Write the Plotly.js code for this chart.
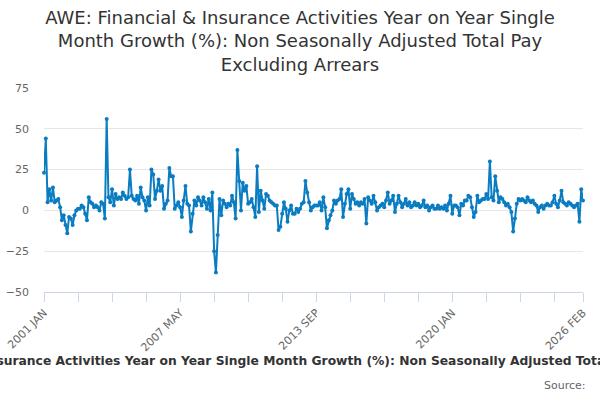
<!DOCTYPE html>
<html>
<head>
<meta charset="utf-8">
<script src="https://cdn.plot.ly/plotly-3.0.1.min.js"></script>
<style>
  html, body { margin: 0; padding: 0; background: #fff; }
  #chart { width: 600px; height: 400px; }
</style>
</head>
<body>
<div id="chart"></div>
<script>
var seriesName = 'AWE: Financial & Insurance Activities Year on Year Single Month Growth (%): Non Seasonally Adjusted Total Pay Excluding Arrears';
var startYear = 2001;
var monthNames = ['JAN', 'FEB', 'MAR', 'APR', 'MAY', 'JUN', 'JUL', 'AUG', 'SEP', 'OCT', 'NOV', 'DEC'];

// monthly values, 2001 JAN .. 2026 FEB
var growth = [
  23, 44, 5, 13, 6, 14, 5, 6, 7, 2, -6, -3,
  -9, -14, -4, -5, -9, -3, 0, 1, 1, 3, 2, -2,
  -6, 8, 5, 4, 2, 3, 2, 0, 5, 4, -5, 56,
  8, 5, 13, 3, 10, 7, 8, 7, 11, 9, 7, 8,
  25, 9, 7, 6, 9, 4, 14, 8, 6, 0, 8, 3,
  25, 22, 7, 12, 19, 12, 15, 1, 4, 6, 26, 21,
  21, 1, 3, 5, 2, -4, 6, 15, 4, 3, -13, -2,
  6, 3, 8, 6, 3, 8, 5, 1, 7, 0, 11, -25,
  -38, -15, 7, -3, 6, 4, 2, 4, 3, 9, 5, -5,
  37, 18, 0, 17, 12, 15, 4, 5, 7, 2, -4, 27,
  -1, 12, 6, 1, 10, 9, 6, 5, 4, 3, 3, -12,
  -10, -2, 5, 1, -7, 0, 3, -2, -2, 1, -1, 1,
  4, 5, 18, 11, 5, 0, 2, 3, 3, 3, 5, 0,
  8, 2, -11, -6, -3, 0, 6, 4, 6, 7, 13, -4,
  4, 10, 13, 1, 10, 7, 4, 5, 3, 5, 4, 7,
  -8, 8, 6, 4, 9, 5, 0, 2, 3, 4, 2, 6,
  11, 4, 6, 9, -1, 4, 9, 5, 2, 4, 7, 3,
  5, 2, 3, 5, 3, 4, 2, 3, 6, 2, 3, 0,
  2, 3, 1, 1, 3, 1, 2, 1, 3, 0, 4, 9,
  -2, 3, 3, 2, -3, 4, 3, 6, 6, 9, 8, 2,
  -4, -1, 9, 5, 6, 7, 7, 10, 7, 30, 8, 6,
  21, 12, 5, 8, 7, 5, 3, 4, 2, -1, -13, -5,
  4, 7, 6, 7, 6, 5, 8, 6, 5, 6, 4, 3,
  -1, 2, 3, 1, 3, 4, 3, 3, 5, 9, 4, 2,
  6, 12, 5, 4, 3, 5, 4, 3, 2, 3, 4, -7,
  13, 6
];

var yTicks = [-50, -25, 0, 25, 50, 75];
var labelMonths = ['2001 JAN', '2007 MAY', '2013 SEP', '2020 JAN', '2026 FEB'];

var months = growth.map(function (v, i) {
  return (startYear + Math.floor(i / 12)) + ' ' + monthNames[i % 12];
});

// tick marks every 19 months, labels on a few of them
var tickVals = [];
var tickText = [];
for (var i = 0; i < months.length - 10; i += 19) {
  tickVals.push(months[i]);
  tickText.push(labelMonths.indexOf(months[i]) >= 0 ? months[i] : '');
}
tickVals.push(months[months.length - 1]);
tickText.push(months[months.length - 1]);

var trace = {
  x: months,
  y: growth,
  type: 'scatter',
  mode: 'lines+markers',
  line: { color: '#0a7cc1', width: 2 },
  marker: { color: '#0a7cc1', size: 4 },
  cliponaxis: false
};

var layout = {
  width: 600,
  height: 400,
  margin: { l: 44, r: 17, t: 88, b: 108 },
  paper_bgcolor: '#fff',
  plot_bgcolor: '#fff',
  font: { family: 'DejaVu Sans, sans-serif', color: '#666', size: 11 },
  showlegend: false,
  title: {
    text: 'AWE: Financial & Insurance Activities Year on Year Single<br>Month Growth (%): Non Seasonally Adjusted Total Pay<br>Excluding Arrears',
    font: { size: 18, color: '#333' },
    x: 0.5,
    xanchor: 'center',
    y: 0.94,
    yanchor: 'top'
  },
  xaxis: {
    type: 'category',
    range: [0, months.length - 1],
    tickmode: 'array',
    tickvals: tickVals,
    ticktext: tickText,
    tickangle: -45,
    ticks: 'outside',
    ticklen: 9,
    tickcolor: '#ccd6eb',
    showline: true,
    linecolor: '#ccd6eb',
    linewidth: 1,
    showgrid: false,
    zeroline: false,
    tickfont: { size: 11, color: '#666' },
    title: {
      text: seriesName,
      font: { size: 12.3, color: '#333', weight: 'bold' },
      standoff: 2
    }
  },
  yaxis: {
    range: [-50, 75],
    tickvals: yTicks,
    showgrid: true,
    gridcolor: '#e6e6e6',
    gridwidth: 1,
    zeroline: false,
    showline: false,
    ticks: '',
    ticklabelstandoff: 14,
    tickfont: { size: 11, color: '#666' }
  },
  annotations: [{
    text: 'Source:',
    xref: 'paper',
    yref: 'paper',
    x: 1.009,
    y: -0.46,
    xanchor: 'right',
    yanchor: 'middle',
    showarrow: false,
    font: { size: 11, color: '#666' }
  }]
};

Plotly.newPlot('chart', [trace], layout, { displayModeBar: false, staticPlot: true });
</script>
</body>
</html>
